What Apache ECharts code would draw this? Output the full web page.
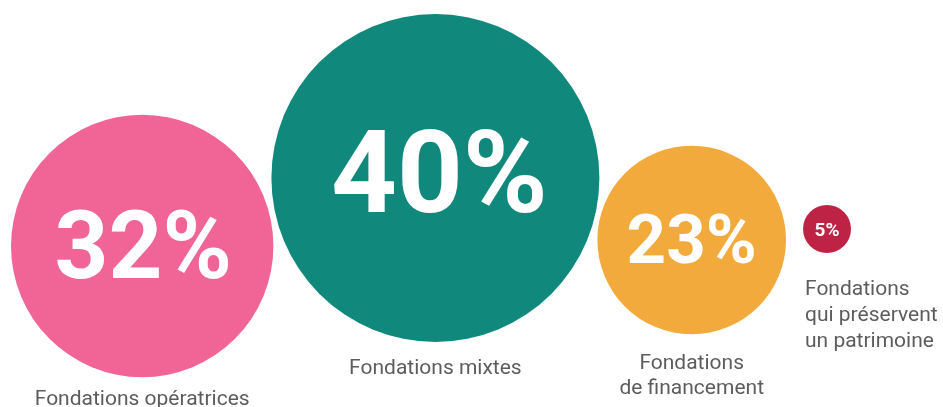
<!DOCTYPE html>
<html>
<head>
<meta charset="utf-8">
<script src="https://cdn.jsdelivr.net/npm/echarts@6/dist/echarts.min.js"></script>
<style>html,body{margin:0;padding:0;background:#fff}#c{width:943px;height:407px}</style>
</head>
<body>
<div id="c"></div>
<script>
// ---- data ----
const categories = ['Fondations opératrices', 'Fondations mixtes', 'Fondations\nde financement', 'Fondations\nqui préservent\nun patrimoine'];
const values = [32, 40, 23, 5];
const valueLabels = ['32%', '40%', '23%', '5%'];

// ---- layout / style (not data) ----
const colors = ['#F06496', '#10887C', '#F2AA3C', '#BE2346'];
const pxPerUnit = 8.2;           // diameter per percentage point
const minDiameter = 48;
const startX = 11;               // left edge of first bubble
const gaps = [0, -2, -2, 17];    // horizontal gap before each bubble
const centerY = [246, 178, 240, 229];
const numFont = [94, 115, 69, 19];
const numOffset = [[1, 8], [4, 5], [0, 6], [0, 2]];
const nameDist = [10, 14, 17, 24];

const diam = values.map(v => Math.max(v * pxPerUnit, minDiameter));
let cursor = startX;
const points = values.map((v, i) => {
  cursor += gaps[i];
  const cx = cursor + diam[i] / 2;
  cursor += diam[i];
  return [cx, centerY[i], v];
});
const sizeOf = (val) => Math.max(val[2] * pxPerUnit, minDiameter);

const chart = echarts.init(document.getElementById('c'), null, {renderer: 'canvas'});
chart.setOption({
  animation: false,
  grid: {left: 0, right: 0, top: 0, bottom: 0},
  xAxis: {type: 'value', min: 0, max: 943, show: false},
  yAxis: {type: 'value', min: 0, max: 407, inverse: true, show: false},
  series: [
    {
      type: 'scatter',
      symbol: 'circle',
      symbolSize: sizeOf,
      data: points.map((p, i) => ({
        value: p,
        itemStyle: {color: colors[i], opacity: 1},
        label: {
          show: true,
          position: 'inside',
          formatter: valueLabels[i],
          color: '#ffffff',
          fontFamily: 'Roboto',
          fontWeight: 'bold',
          fontSize: numFont[i],
          offset: numOffset[i]
        }
      })),
      emphasis: {disabled: true}
    },
    {
      type: 'scatter',
      symbol: 'circle',
      symbolSize: sizeOf,
      silent: true,
      itemStyle: {color: 'rgba(0,0,0,0)'},
      data: points.map((p, i) => ({
        value: p,
        label: {
          show: true,
          position: 'bottom',
          distance: nameDist[i],
          formatter: categories[i],
          color: '#333333',
          fontFamily: 'Roboto',
          fontSize: 21,
          lineHeight: i === 3 ? 26 : 25,
          align: i === 3 ? 'left' : 'center',
          offset: i === 3 ? [-22, 0] : [0, 0]
        }
      })),
      emphasis: {disabled: true}
    }
  ]
});
</script>
</body>
</html>
